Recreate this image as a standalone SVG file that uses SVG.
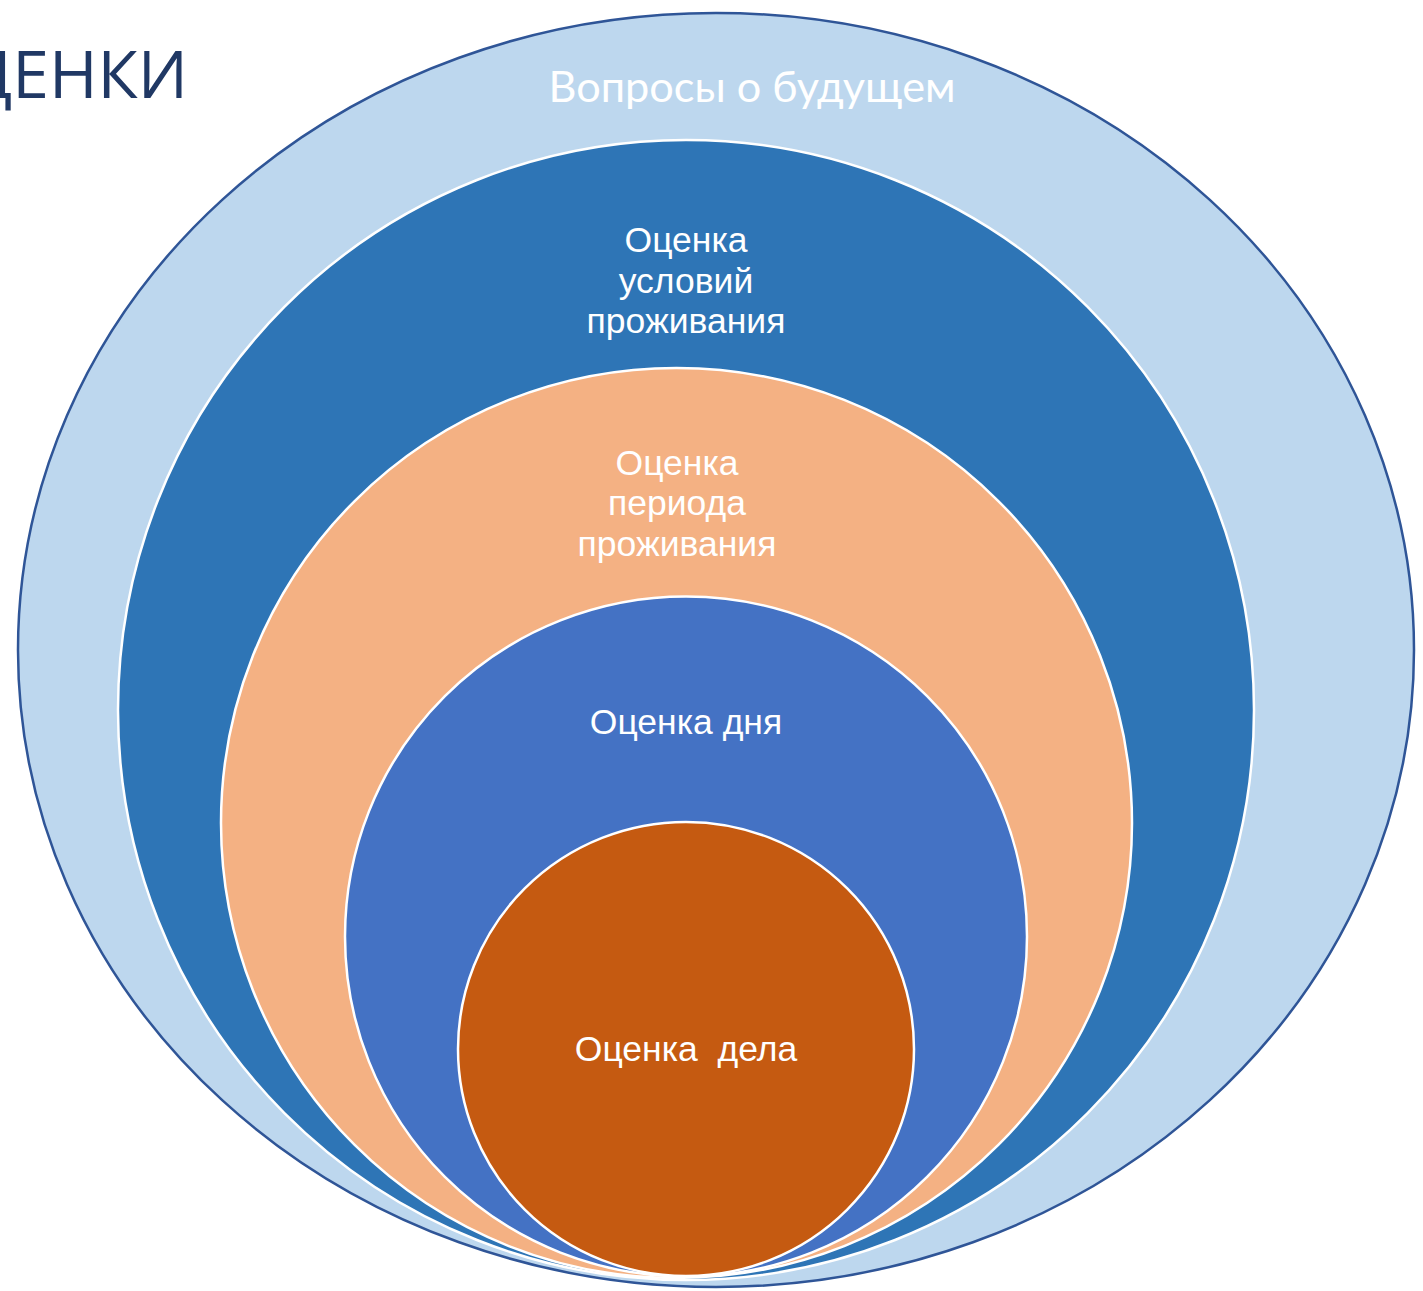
<svg xmlns="http://www.w3.org/2000/svg" width="1423" height="1291" viewBox="0 0 1423 1291">
<style>
.ring{stroke:#FFFFFF;stroke-width:2.5}
.lbl{font-family:"Liberation Sans",Arial,sans-serif;font-size:35.5px;fill:#FFFFFF;text-anchor:middle}
.cal{font-family:Lato,"Open Sans",sans-serif}
</style>
<rect width="1423" height="1291" fill="#FFFFFF"/>
<text x="188" y="98" font-family="'Open Sans',Lato,sans-serif" font-size="66" fill="#203864" text-anchor="end">ЦЕНКИ</text>
<g id="node-future">
<ellipse cx="716" cy="650" rx="698" ry="637" fill="#BDD7EE" stroke="#2F5597" stroke-width="2.5"/>
<text class="cal" x="752" y="102" font-size="42" fill="#FFFFFF" text-anchor="middle" textLength="407" lengthAdjust="spacingAndGlyphs">Вопросы о будущем</text>
</g>
<g id="node-conditions">
<ellipse class="ring" cx="686" cy="710" rx="568" ry="570" fill="#2E75B6"/>
<text class="lbl" x="686" y="252">Оценка</text>
<text class="lbl" x="686" y="293">условий</text>
<text class="lbl" x="686" y="333">проживания</text>
</g>
<g id="node-period">
<ellipse class="ring" cx="676.5" cy="823" rx="455.5" ry="455" fill="#F4B183"/>
<text class="lbl" x="677" y="475">Оценка</text>
<text class="lbl" x="677" y="515">периода</text>
<text class="lbl" x="677" y="556">проживания</text>
</g>
<g id="node-day">
<ellipse class="ring" cx="686" cy="936.5" rx="341" ry="340" fill="#4472C4"/>
<text class="lbl" x="686" y="734">Оценка дня</text>
</g>
<g id="node-task">
<ellipse class="ring" cx="686" cy="1049" rx="228" ry="227" fill="#C55A11"/>
<text class="lbl" x="686" y="1061" xml:space="preserve">Оценка  дела</text>
</g>
<g id="connectors"></g>
</svg>
